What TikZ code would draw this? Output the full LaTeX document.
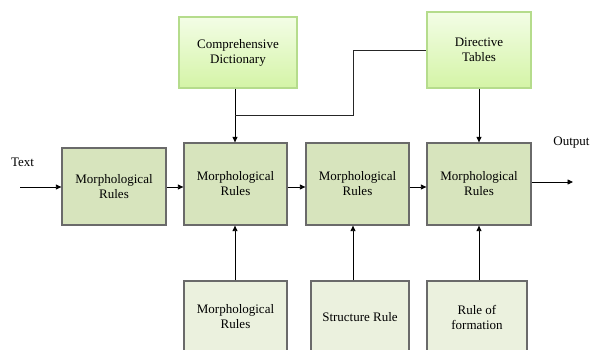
\documentclass[tikz,border=0pt]{standalone}
\usepackage{fontspec}
\setmainfont{Liberation Serif}
\usetikzlibrary{arrows.meta,shadows}
\definecolor{mainfill}{HTML}{D7E4BD}
\definecolor{lowfill}{HTML}{EBF1DE}
\definecolor{boxline}{HTML}{6A6A6A}
\definecolor{topline}{HTML}{B5DC8C}
\definecolor{toptop}{HTML}{F3FDE6}
\definecolor{topbot}{HTML}{D4F4A6}
\tikzset{
  base/.style={rectangle, inner sep=0pt, align=center,
    font=\fontsize{13}{15}\selectfont},
  mainbox/.style={base, draw=boxline, line width=1.3pt, fill=mainfill},
  lowbox/.style={base, draw=boxline, line width=1.3pt, fill=lowfill},
  topbox/.style={base, draw=topline, line width=1.2pt, top color=toptop, bottom color=topbot,
    drop shadow={shadow xshift=1pt, shadow yshift=-1.5pt, fill=black!35, opacity=0.5}},
  arr/.style={draw=black, line width=0.8pt, -{Triangle[length=5.5pt,width=5pt]}},
  ln/.style={draw=black!85, line width=0.8pt},
  lbl/.style={base, inner sep=0pt}
}
\begin{document}
\begin{tikzpicture}[x=1pt,y=-1pt]
\useasboundingbox (0,0) rectangle (590,350);
\clip (0,0) rectangle (590,350);
% top boxes
\node[topbox, minimum width=118pt, minimum height=71pt] (cd) at (238,52.5) {Comprehensive\\Dictionary};
\node[topbox, minimum width=104pt, minimum height=76pt] (dt) at (479,50) {Directive\\Tables};
% main row
\node[mainbox, minimum width=104pt, minimum height=77pt] (b1) at (114,186.5) {Morphological\\Rules};
\node[mainbox, minimum width=103pt, minimum height=82pt] (b2) at (235.5,184) {Morphological\\Rules};
\node[mainbox, minimum width=103pt, minimum height=82pt] (b3) at (357.5,184) {Morphological\\Rules};
\node[mainbox, minimum width=104pt, minimum height=82pt] (b4) at (479,184) {Morphological\\Rules};
% lower row
\node[lowbox, minimum width=103pt, minimum height=72pt] (l1) at (235.5,317) {Morphological\\Rules};
\node[lowbox, minimum width=98pt, minimum height=72pt] (l2) at (360,317) {Structure Rule};
\node[lowbox, minimum width=100pt, minimum height=72pt] (l3) at (477,317) {Rule of\\formation};
% labels
\node[lbl] (txt) at (22.5,162) {Text};
\node[lbl] (out) at (571.5,143) {Output};
\coordinate (tin) at (20,187);
\coordinate (oend) at (573,182);
\coordinate (ty) at (0,187);
\coordinate (oy) at (0,182);
\coordinate (j1) at (235,115);
\coordinate (j2) at (353,115);
\coordinate (j3) at (353,50);
% connectors
\draw[arr] (tin) -- (b1.west |- ty);
\draw[arr] (b1.east |- ty) -- (b2.west |- ty);
\draw[arr] (b2.east |- ty) -- (b3.west |- ty);
\draw[arr] (b3.east |- ty) -- (b4.west |- ty);
\draw[arr] (b4.east |- oy) -- (oend);
\draw[arr] (cd.south -| j1) -- (b2.north -| j1);
\draw[ln] (j1) -- (j2) -- (j3) -- (dt.west |- j3);
\draw[arr] (dt.south) -- (b4.north -| dt.south);
\draw[arr] (l1.north -| j1) -- (b2.south -| j1);
\draw[arr] (l2.north -| j2) -- (b3.south -| j2);
\draw[arr] (l3.north -| dt.south) -- (b4.south -| dt.south);
\end{tikzpicture}
\end{document}
